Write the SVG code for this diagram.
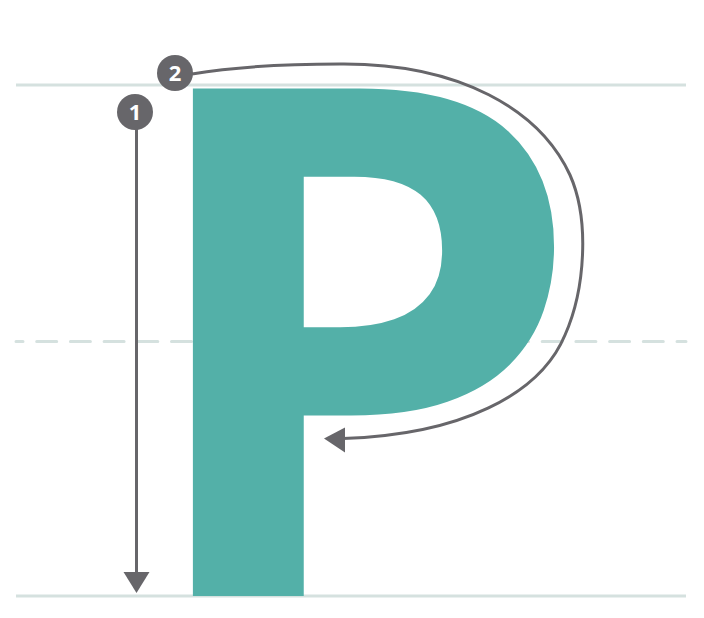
<svg xmlns="http://www.w3.org/2000/svg" width="704" height="618" viewBox="0 0 704 618">
  <defs>
    <style>
      .guide { stroke: #d5e1df; stroke-width: 3; fill: none; }
      .dash { stroke-dasharray: 20 13.7; stroke-dashoffset: 13; stroke-linecap: round; }
      .stroke { stroke: #67666a; fill: none; }
      .badge { fill: #67666a; }
      .num { fill: #ffffff; font-family: "Open Sans", "Liberation Sans", sans-serif; font-weight: 700; font-size: 22px; text-anchor: middle; }
      .letter { fill: #53b0a8; font-family: "Open Sans", "Noto Sans", sans-serif; font-weight: 700; }
      .head { fill: #67666a; }
    </style>
  </defs>
  <rect width="704" height="618" fill="#ffffff"/>
  <g id="guides">
    <line class="guide" x1="16" y1="85" x2="686" y2="85"/>
    <line class="guide dash" x1="16" y1="341.5" x2="686" y2="341.5"/>
    <line class="guide" x1="16" y1="596" x2="686" y2="596"/>
  </g>
  <g id="letter">
    <text class="letter" x="129" y="596" font-size="711" transform="translate(192,0) scale(1.03,1) translate(-192,0)">P</text>
  </g>
  <g id="connectors">
    <path class="stroke" stroke-width="3" d="M136.5,128 L136.5,574"/>
    <polygon class="head" points="123.5,572 149.5,572 136.5,593"/>
    <path class="stroke" stroke-width="3" d="M192,74 C240,66 290,64 340,64 C460,63 540,110 570,175 C590,220 585,290 565,335 C540,395 460,435 343,438.5"/>
    <polygon class="head" points="345,427.5 345,452.5 324,438.5"/>
  </g>
  <g id="step1">
    <circle class="badge" cx="135" cy="112" r="18"/>
    <text class="num" x="135" y="120">1</text>
  </g>
  <g id="step2">
    <circle class="badge" cx="175" cy="73" r="18"/>
    <text class="num" x="175" y="81">2</text>
  </g>
</svg>
